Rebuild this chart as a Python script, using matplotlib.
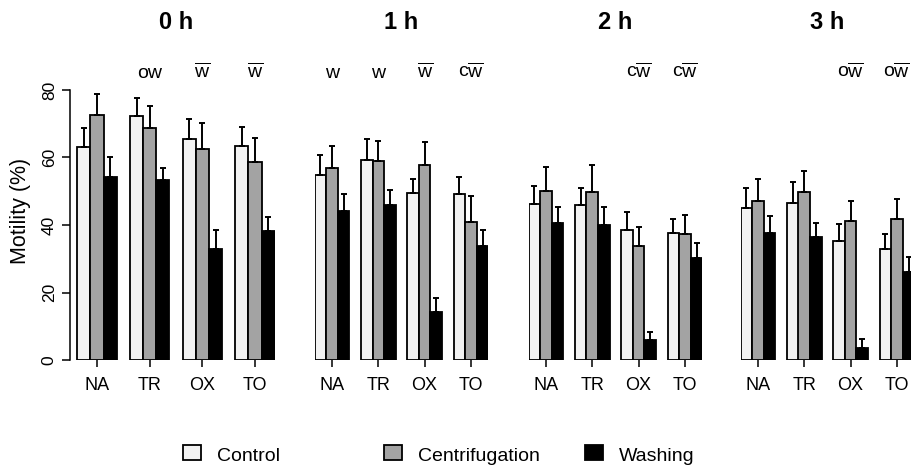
import numpy as np
import matplotlib
matplotlib.use("Agg")
import matplotlib.pyplot as plt
from matplotlib.patches import Rectangle

plt.rcParams['font.family'] = ['Liberation Sans', 'DejaVu Sans']
plt.rcParams['mathtext.fontset'] = 'custom'
plt.rcParams['mathtext.rm'] = 'Liberation Sans'

# data
times = ['0 h', '1 h', '2 h', '3 h']
groups = ['NA', 'TR', 'OX', 'TO']
series = ['Control', 'Centrifugation', 'Washing']

control_mean = [[63.1, 72.3, 65.5, 63.4],
                [54.8, 59.4, 49.4, 49.1],
                [46.2, 45.9, 38.5, 37.5],
                [44.9, 46.6, 35.3, 32.9]]
control_err = [[5.7, 5.2, 5.9, 5.7],
               [5.8, 6.1, 4.3, 5.1],
               [5.5, 5.0, 5.3, 4.2],
               [6.2, 6.1, 4.9, 4.4]]
centrif_mean = [[72.6, 68.8, 62.4, 58.7],
                [57.0, 58.9, 57.9, 40.9],
                [50.1, 49.7, 33.8, 37.2],
                [47.1, 49.9, 41.3, 41.8]]
centrif_err = [[6.1, 6.5, 7.8, 7.2],
               [6.3, 6.1, 6.7, 7.7],
               [7.1, 8.0, 5.7, 5.9],
               [6.5, 6.2, 5.8, 5.9]]
washing_mean = [[54.3, 53.3, 32.8, 38.2],
                [44.2, 45.9, 14.1, 33.9],
                [40.7, 40.1, 5.9, 30.3],
                [37.5, 36.5, 3.7, 26.2]]
washing_err = [[5.7, 3.7, 5.7, 4.1],
               [4.9, 4.6, 4.3, 4.6],
               [4.7, 5.3, 2.5, 4.3],
               [5.1, 4.2, 2.4, 4.4]]

# significance letters above each group ("~w" = w with overline)
letters = [['', 'ow', '~w', '~w'],
           ['w', 'w', '~w', 'c~w'],
           ['', '', 'c~w', 'c~w'],
           ['', '', 'o~w', 'o~w']]

colors = ['#f2f2f2', '#a3a3a3', '#000000']

W, H = 912, 466
fig = plt.figure(figsize=(W / 100, H / 100), dpi=100)

# panel placement in pixels: (left, unit width, xmin)
y0_px, y80_px = 360, 90
panels = [(70, 13.17, 0.45), (314.6, 11.58, 1.0), (528.6, 11.58, 1.0), (740.6, 11.58, 1.0)]

means = [control_mean, centrif_mean, washing_mean]
errs = [control_err, centrif_err, washing_err]


def fmt(s):
    return s.replace('~w', r'$\overline{\mathrm{w}}$')


for p, (left, unit, xmin) in enumerate(panels):
    width_px = (16 - xmin) * unit
    ax = fig.add_axes([left / W, (H - y0_px) / H, width_px / W, (y0_px - y80_px) / H])
    ax.set_xlim(xmin, 16)
    ax.set_ylim(0, 80)
    centers = 2.5 + 4 * np.arange(len(groups))
    for s in range(3):
        xs = centers - 1 + s
        vals = np.array(means[s][p])
        ax.bar(xs, vals, width=1, color=colors[s], edgecolor='black', linewidth=1.3, zorder=2)
        ax.errorbar(xs, vals, yerr=[np.zeros(len(vals)), errs[s][p]], fmt='none',
                    ecolor='black', elinewidth=1.4, capsize=2.5, capthick=1.4, zorder=3)
    for g in range(len(groups)):
        if letters[p][g]:
            ax.text(centers[g], 83.6, fmt(letters[p][g]), ha='center', va='baseline',
                    fontsize=14, clip_on=False)
    ax.text(8.5, 98.1, times[p], ha='center', va='baseline', fontsize=17,
            fontweight='bold', clip_on=False)
    for sp in ['top', 'right', 'bottom']:
        ax.spines[sp].set_visible(False)
    ax.set_xticks(centers)
    ax.set_xticklabels(groups, fontsize=13)
    ax.tick_params(axis='x', length=5, width=1.1, pad=7)
    if p == 0:
        ax.spines['left'].set_bounds(0, 80)
        ax.spines['left'].set_linewidth(1.1)
        ax.set_yticks([0, 20, 40, 60, 80])
        ax.set_yticklabels(['0', '20', '40', '60', '80'], fontsize=12.5, rotation=90, va='center')
        ax.tick_params(axis='y', length=6, width=1.1, pad=3.5)
    else:
        ax.spines['left'].set_visible(False)
        ax.set_yticks([])

fig.text(21 / W, 1 - 211 / H, 'Motility (%)', rotation=90, ha='center', va='center', fontsize=15.5)

# legend row
leg_sq = [183, 384, 585]
for s in range(3):
    fig.patches.append(Rectangle((leg_sq[s] / W, 1 - 460 / H), 18 / W, 15 / H,
                                 transform=fig.transFigure, facecolor=colors[s],
                                 edgecolor='black', linewidth=1.3))
    fig.text((leg_sq[s] + 34) / W, 1 - 461 / H, series[s], ha='left', va='baseline', fontsize=14)

fig.savefig('out.png', dpi=100)
